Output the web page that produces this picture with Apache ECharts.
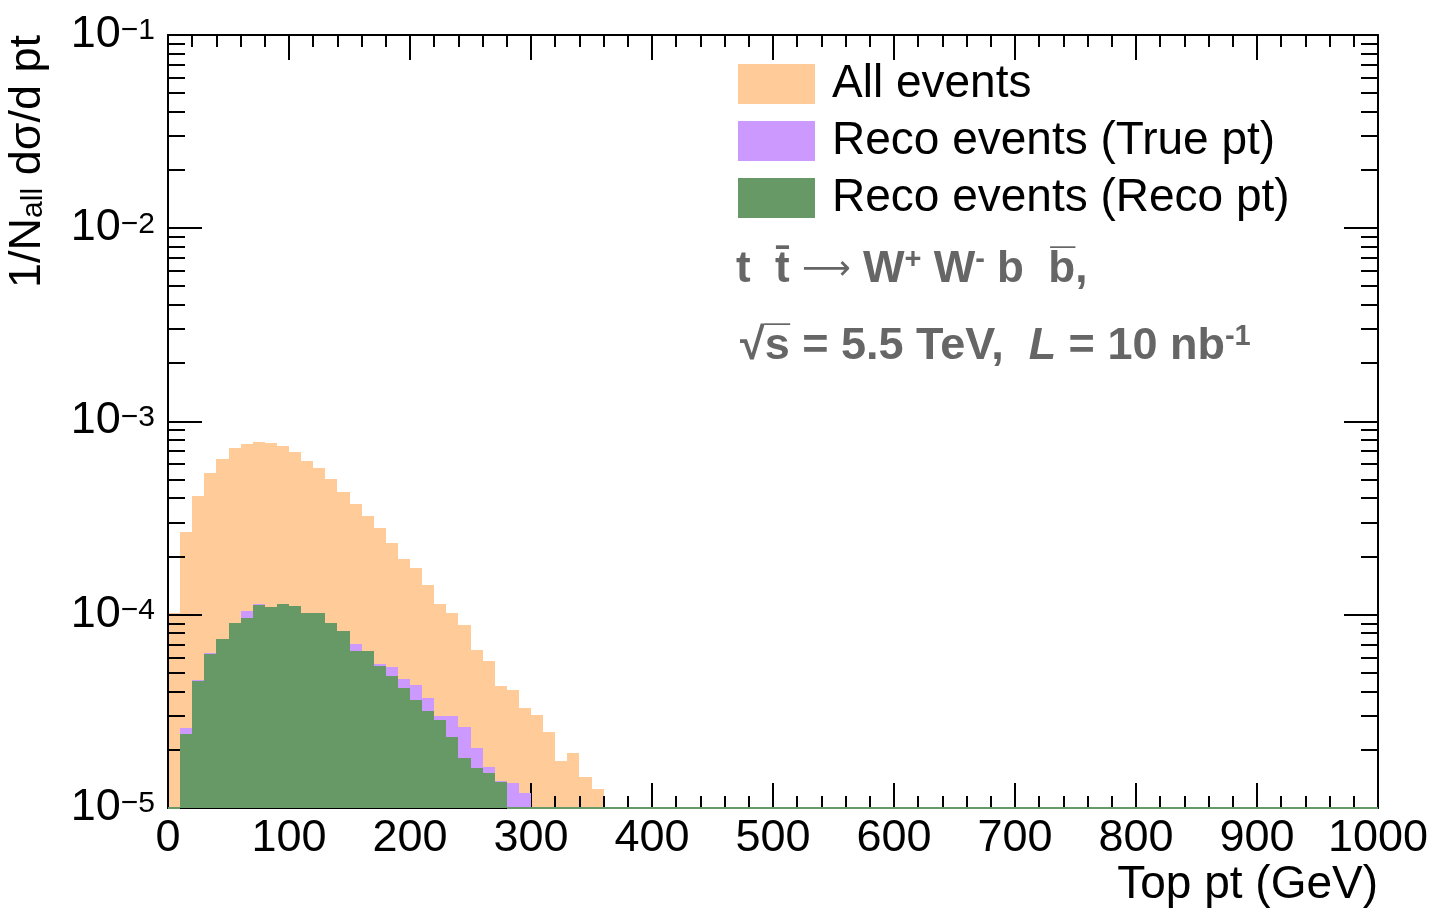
<!DOCTYPE html>
<html>
<head>
<meta charset="utf-8">
<title>Top pt</title>
<script src="https://cdn.jsdelivr.net/npm/echarts@6/dist/echarts.min.js"></script>
<style>
  html, body { margin: 0; padding: 0; background: #ffffff; }
  #chart { width: 1429px; height: 911px; }
</style>
</head>
<body>
<div id="chart"></div>
<script>
// Histogram binning (GeV) and axis ranges
const binWidth = 10;
const xRange = [0, 1000];
const yRange = [1e-5, 1e-1];

// Tick labels
const xTickLabels = ['0', '100', '200', '300', '400', '500', '600', '700', '800', '900', '1000'];
const yDecades = [1e-5, 1e-4, 1e-3, 1e-2, 1e-1];

// 1/N_all dsigma/dpt per 10 GeV bin, starting at pt = 0
const allEvents = [
  1.02e-4, 2.67e-4, 4.14e-4, 5.43e-4, 6.39e-4, 7.29e-4, 7.66e-4, 7.82e-4, 7.73e-4, 7.48e-4,
  6.94e-4, 6.26e-4, 5.76e-4, 5.04e-4, 4.33e-4, 3.75e-4, 3.25e-4, 2.81e-4, 2.36e-4, 1.95e-4,
  1.74e-4, 1.43e-4, 1.14e-4, 1.02e-4, 8.80e-5, 6.59e-5, 5.78e-5, 4.29e-5, 4.09e-5, 3.31e-5,
  3.03e-5, 2.48e-5, 1.75e-5, 1.92e-5, 1.44e-5, 1.25e-5
];
const recoTruePt = [
  0, 2.60e-5, 4.58e-5, 6.33e-5, 7.50e-5, 9.04e-5, 1.04e-4, 1.13e-4, 1.10e-4, 1.14e-4,
  1.115e-4, 1.02e-4, 1.02e-4, 9.08e-5, 8.22e-5, 7.08e-5, 6.52e-5, 5.58e-5, 5.34e-5, 4.63e-5,
  4.31e-5, 3.72e-5, 3.00e-5, 3.00e-5, 2.64e-5, 2.05e-5, 1.63e-5, 1.38e-5, 1.35e-5, 1.19e-5
];
const recoRecoPt = [
  0, 2.42e-5, 4.52e-5, 6.28e-5, 7.48e-5, 9.02e-5, 9.57e-5, 1.126e-4, 1.10e-4, 1.136e-4,
  1.113e-4, 1.02e-4, 1.02e-4, 9.06e-5, 8.20e-5, 6.53e-5, 6.49e-5, 5.45e-5, 4.83e-5, 4.16e-5,
  3.60e-5, 3.19e-5, 2.84e-5, 2.34e-5, 1.81e-5, 1.62e-5, 1.51e-5, 1.37e-5
];

const seriesNames = ['All events', 'Reco events (True pt)', 'Reco events (Reco pt)'];
const seriesValues = [allEvents, recoTruePt, recoRecoPt];
const seriesColors = ['#ffcc99', '#cc99ff', '#669966'];

const FONT = '"Liberation Sans", Arial, Helvetica, sans-serif';
const INK = '#000000';
const NOTE = '#666666';

// Minor log ticks at 2..9 x 10^n
const yMinor = [];
for (let d = -5; d <= -2; d++) {
  for (let k = 2; k <= 9; k++) yMinor.push(k * Math.pow(10, d));
}

// One data item per bin across the full x range; bins past the stored values are empty
function binData(values) {
  const nBins = (xRange[1] - xRange[0]) / binWidth;
  const out = [];
  for (let i = 0; i < nBins; i++) {
    out.push([xRange[0] + i * binWidth, i < values.length ? values[i] : 0]);
  }
  return out;
}

// Filled bin down to the axis minimum; empty bins leave the outline along the bottom
function histRenderer(color) {
  return function (params, api) {
    const x0 = api.value(0);
    const v = api.value(1);
    const b0 = api.coord([x0, yRange[0]]);
    const b1 = api.coord([x0 + binWidth, yRange[0]]);
    const L = Math.round(b0[0]);
    const R = Math.round(b1[0]);
    const B = Math.round(b0[1]);
    if (v > 0) {
      const T = Math.round(api.coord([x0, v])[1]);
      return { type: 'rect', shape: { x: L, y: T, width: R - L, height: B - T }, style: { fill: color } };
    }
    return { type: 'line', shape: { x1: L, y1: B, x2: R, y2: B }, style: { stroke: color, lineWidth: 2 } };
  };
}

const histSeries = seriesNames.map((name, k) => ({
  name: name,
  type: 'custom',
  xAxisIndex: 0,
  yAxisIndex: 0,
  z: k === 0 ? 1 : 3,
  clip: false,
  silent: true,
  color: seriesColors[k],
  itemStyle: { color: seriesColors[k] },
  encode: { x: 0, y: 1 },
  data: binData(seriesValues[k]),
  renderItem: histRenderer(seriesColors[k])
}));

// Minor ticks of the log axis on the left and right frame edges
const minorTickSeries = {
  type: 'custom',
  xAxisIndex: 0,
  yAxisIndex: 0,
  z: 2,
  clip: false,
  silent: true,
  encode: { x: 0, y: 1 },
  data: yMinor.map(v => [xRange[0], v]),
  renderItem: function (params, api) {
    const v = api.value(1);
    const l = api.coord([xRange[0], v]);
    const r = api.coord([xRange[1], v]);
    const y = Math.round(l[1]);
    const len = 17;
    return {
      type: 'group',
      children: [
        { type: 'line', shape: { x1: l[0], y1: y, x2: l[0] + len, y2: y }, style: { stroke: INK, lineWidth: 2 } },
        { type: 'line', shape: { x1: r[0], y1: y, x2: r[0] - len, y2: y }, style: { stroke: INK, lineWidth: 2 } }
      ]
    };
  }
};

function xAxisDef(position, showLabels) {
  return {
    type: 'value',
    position: position,
    min: xRange[0],
    max: xRange[1],
    interval: 100,
    z: 2,
    axisLine: { show: true, onZero: false, lineStyle: { color: INK, width: 2 } },
    axisTick: { show: true, inside: true, length: 25, lineStyle: { color: INK, width: 2 } },
    minorTick: { show: true, splitNumber: 5, length: 12, lineStyle: { color: INK, width: 2 } },
    splitLine: { show: false },
    minorSplitLine: { show: false },
    axisLabel: {
      show: showLabels,
      margin: 8,
      fontSize: 45,
      fontFamily: FONT,
      color: INK,
      showMinLabel: true,
      showMaxLabel: true,
      hideOverlap: false,
      formatter: function (value) {
        const idx = Math.round((value - xRange[0]) / 100);
        return xTickLabels[idx] !== undefined ? xTickLabels[idx] : '';
      }
    }
  };
}

function yAxisDef(position, showLabels) {
  return {
    type: 'log',
    logBase: 10,
    position: position,
    min: yRange[0],
    max: yRange[1],
    z: 2,
    axisLine: { show: true, onZero: false, lineStyle: { color: INK, width: 2 } },
    axisTick: { show: true, inside: true, length: 34, lineStyle: { color: INK, width: 2 } },
    minorTick: { show: false },
    splitLine: { show: false },
    axisLabel: {
      show: showLabels,
      margin: 13,
      showMinLabel: true,
      showMaxLabel: true,
      hideOverlap: false,
      formatter: function (value) {
        const e = Math.round(Math.log10(value));
        return '{b|10}{s|' + (e < 0 ? '\u2212' : '') + Math.abs(e) + '}';
      },
      rich: {
        b: { fontSize: 45, fontFamily: FONT, color: INK, lineHeight: 44, padding: [10, 0, 0, 0], verticalAlign: 'bottom' },
        s: { fontSize: 30, fontFamily: FONT, color: INK, lineHeight: 30, padding: [3, 0, 0, 0], verticalAlign: 'top' }
      }
    }
  };
}

const chart = echarts.init(document.getElementById('chart'), null, { renderer: 'canvas' });

chart.setOption({
  animation: false,
  backgroundColor: '#ffffff',
  grid: {
    left: 168,
    top: 35,
    width: 1210,
    height: 773,
    containLabel: false,
    outerBoundsMode: 'none',
    show: false
  },
  xAxis: [xAxisDef('bottom', true), xAxisDef('top', false)],
  yAxis: [yAxisDef('left', true), yAxisDef('right', false)],
  legend: {
    data: seriesNames,
    orient: 'vertical',
    left: 738,
    top: 61,
    padding: 0,
    icon: 'rect',
    itemWidth: 77,
    itemHeight: 40,
    itemGap: 11,
    selectedMode: false,
    textStyle: { fontSize: 46, fontFamily: FONT, color: INK, padding: [0, 0, 0, 12] }
  },
  graphic: [
    {
      type: 'text',
      x: 736,
      y: 270,
      z: 10,
      silent: true,
      style: {
        text: '{m|t  t\u0304 }{a|\u27f6}{m| W}{sup|+}{m| W}{sup|-}{m| b  b\u0305,}',
        align: 'left',
        verticalAlign: 'middle',
        rich: {
          m: { fontSize: 44, fontWeight: 'bold', fontFamily: FONT, fill: NOTE, lineHeight: 50 },
          a: { fontSize: 34, fontFamily: '"DejaVu Sans", ' + FONT, fill: NOTE, lineHeight: 50 },
          sup: { fontSize: 29, fontWeight: 'bold', fontFamily: FONT, fill: NOTE, lineHeight: 29, verticalAlign: 'top' }
        }
      }
    },
    {
      type: 'text',
      x: 740,
      y: 347,
      z: 10,
      silent: true,
      style: {
        text: '{m|\u221As\u0305 = 5.5 TeV,  }{i|L}{m| = 10 nb}{sup|-1}',
        align: 'left',
        verticalAlign: 'middle',
        rich: {
          m: { fontSize: 45, fontWeight: 'bold', fontFamily: FONT, fill: NOTE, lineHeight: 50 },
          i: { fontSize: 45, fontWeight: 'bold', fontStyle: 'italic', fontFamily: FONT, fill: NOTE, lineHeight: 50 },
          sup: { fontSize: 29, fontWeight: 'bold', fontFamily: FONT, fill: NOTE, lineHeight: 29, verticalAlign: 'top' }
        }
      }
    },
    {
      type: 'text',
      x: 1378,
      y: 885,
      z: 10,
      silent: true,
      style: {
        text: 'Top pt (GeV)',
        align: 'right',
        verticalAlign: 'middle',
        fontSize: 46,
        fontFamily: FONT,
        fill: INK
      }
    },
    {
      type: 'text',
      x: 27,
      y: 35,
      rotation: Math.PI / 2,
      z: 10,
      silent: true,
      style: {
        text: '{n|1/N}{sub|all}{n| d\u03c3/d pt}',
        align: 'right',
        verticalAlign: 'middle',
        rich: {
          n: { fontSize: 45, fontFamily: FONT, fill: INK, lineHeight: 44, padding: [0, 0, 16, 0], verticalAlign: 'top' },
          sub: { fontSize: 30, fontFamily: FONT, fill: INK, lineHeight: 29, verticalAlign: 'bottom' }
        }
      }
    }
  ],
  series: [histSeries[0], minorTickSeries, histSeries[1], histSeries[2]]
});
</script>
</body>
</html>
